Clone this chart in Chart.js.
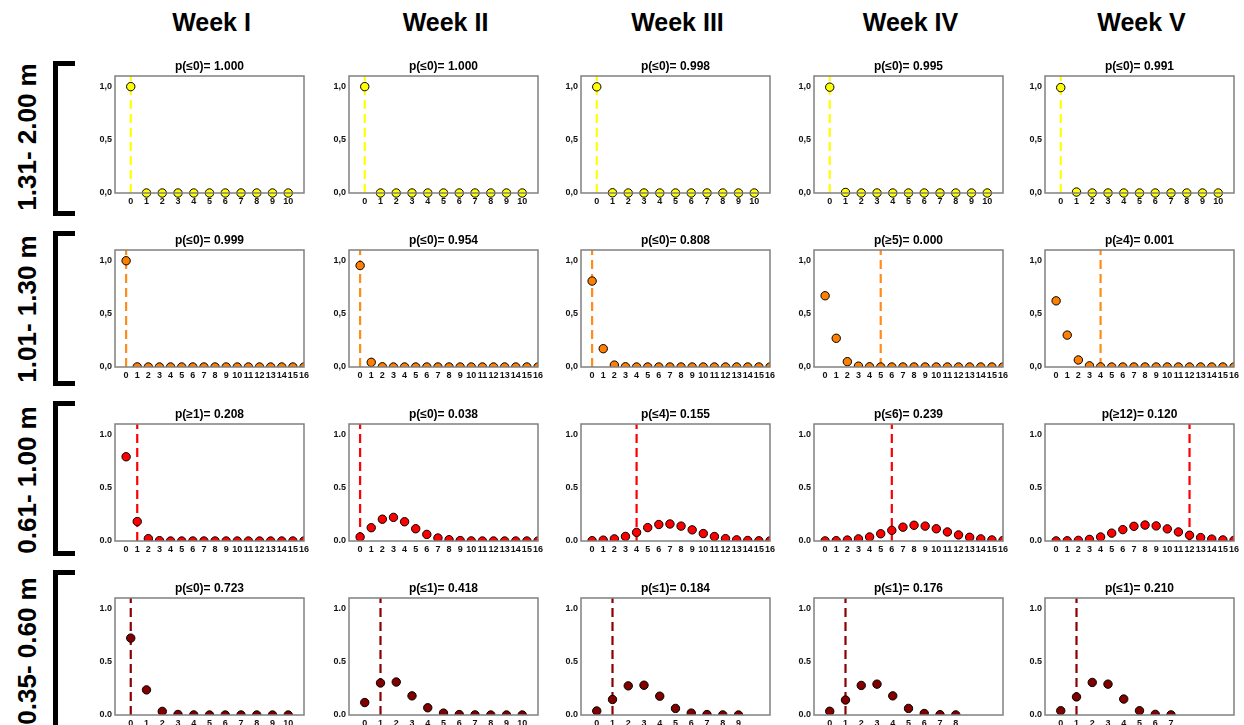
<!DOCTYPE html>
<html>
<head>
<meta charset="utf-8">
<script src="https://cdn.jsdelivr.net/npm/chart.js@4.4.0/dist/chart.umd.min.js"></script>
<style>
  body { margin: 0; background: #fff; overflow: hidden; }
  #page { position: relative; width: 1244px; height: 725px; overflow: hidden; font-family: Arial, "Liberation Sans", sans-serif; }
  .week { position: absolute; top: 7px; width: 200px; margin-left: -100px; text-align: center; font-weight: bold; font-size: 25px; line-height: 30px; }
  .depth { position: absolute; left: 27px; width: 220px; text-align: center; font-weight: bold; font-size: 26px; line-height: 30px; white-space: nowrap; transform: translate(-50%, -50%) rotate(-90deg); }
  .bracket { position: absolute; left: 53px; width: 17px; border: 5px solid #000; border-right: none; }
  canvas { position: absolute; }
</style>
</head>
<body>
<div id="page"></div>
<script>
const weeks = ['Week I', 'Week II', 'Week III', 'Week IV', 'Week V'];
const depths = ['1.31- 2.00 m', '1.01- 1.30 m', '0.61- 1.00 m', '0.35- 0.60 m'];
const yTicks = [0, 0.5, 1.0];

// row 1: 1.31 - 2.00 m
const row1Probs = [
  [1.000, 0, 0, 0, 0, 0, 0, 0, 0, 0, 0],
  [1.000, 0, 0, 0, 0, 0, 0, 0, 0, 0, 0],
  [0.998, 0.002, 0, 0, 0, 0, 0, 0, 0, 0, 0],
  [0.995, 0.005, 0, 0, 0, 0, 0, 0, 0, 0, 0],
  [0.991, 0.009, 0, 0, 0, 0, 0, 0, 0, 0, 0]
];
const row1Cut = [0, 0, 0, 0, 0];
const row1Titles = ['p(≤0)= 1.000', 'p(≤0)= 1.000', 'p(≤0)= 0.998', 'p(≤0)= 0.995', 'p(≤0)= 0.991'];

// row 2: 1.01 - 1.30 m
const row2Probs = [
  [0.999, 0.001, 0, 0, 0, 0, 0, 0, 0, 0, 0, 0, 0, 0, 0, 0, 0],
  [0.954, 0.044, 0.002, 0, 0, 0, 0, 0, 0, 0, 0, 0, 0, 0, 0, 0, 0],
  [0.808, 0.172, 0.018, 0.002, 0, 0, 0, 0, 0, 0, 0, 0, 0, 0, 0, 0, 0],
  [0.670, 0.270, 0.050, 0.008, 0.002, 0, 0, 0, 0, 0, 0, 0, 0, 0, 0, 0, 0],
  [0.622, 0.300, 0.066, 0.011, 0.001, 0, 0, 0, 0, 0, 0, 0, 0, 0, 0, 0, 0]
];
const row2Cut = [0, 0, 0, 5, 4];
const row2Titles = ['p(≤0)= 0.999', 'p(≤0)= 0.954', 'p(≤0)= 0.808', 'p(≥5)= 0.000', 'p(≥4)= 0.001'];

// row 3: 0.61 - 1.00 m
const row3Probs = [
  [0.792, 0.183, 0.022, 0.003, 0, 0, 0, 0, 0, 0, 0, 0, 0, 0, 0, 0, 0],
  [0.038, 0.125, 0.205, 0.222, 0.181, 0.115, 0.062, 0.028, 0.012, 0.004, 0.001, 0, 0, 0, 0, 0, 0],
  [0.003, 0.008, 0.020, 0.043, 0.081, 0.126, 0.155, 0.160, 0.140, 0.105, 0.070, 0.042, 0.022, 0.011, 0.005, 0.002, 0.001],
  [0.001, 0.003, 0.009, 0.020, 0.038, 0.068, 0.100, 0.130, 0.148, 0.140, 0.115, 0.085, 0.057, 0.035, 0.020, 0.010, 0.005],
  [0.001, 0.002, 0.006, 0.015, 0.038, 0.074, 0.107, 0.138, 0.150, 0.142, 0.114, 0.085, 0.054, 0.032, 0.018, 0.010, 0.006]
];
const row3Cut = [1, 0, 4, 6, 12];
const row3Titles = ['p(≥1)= 0.208', 'p(≤0)= 0.038', 'p(≤4)= 0.155', 'p(≤6)= 0.239', 'p(≥12)= 0.120'];

// row 4: 0.35 - 0.60 m
const row4Probs = [
  [0.723, 0.236, 0.034, 0.005, 0.001, 0, 0, 0, 0, 0, 0],
  [0.117, 0.301, 0.310, 0.180, 0.068, 0.018, 0.004, 0.001, 0, 0, 0],
  [0.038, 0.146, 0.274, 0.280, 0.177, 0.062, 0.018, 0.004, 0.001, 0],
  [0.035, 0.141, 0.278, 0.290, 0.180, 0.062, 0.014, 0.003, 0.001],
  [0.040, 0.170, 0.306, 0.290, 0.150, 0.040, 0.006, 0.001]
];
const row4Cut = [0, 1, 1, 1, 1];
const row4Titles = ['p(≤0)= 0.723', 'p(≤1)= 0.418', 'p(≤1)= 0.184', 'p(≤1)= 0.176', 'p(≤1)= 0.210'];

const rows = [
  { probs: row1Probs, cut: row1Cut, titles: row1Titles, xMax: 11, fill: '#ffff00', line: '#ffff00', sep: ',', clip: false },
  { probs: row2Probs, cut: row2Cut, titles: row2Titles, xMax: 16, fill: '#ff8000', line: '#ff8c1a', sep: ',', clip: 0 },
  { probs: row3Probs, cut: row3Cut, titles: row3Titles, xMax: 16, fill: '#ff0000', line: '#ff0000', sep: '.', clip: 0 },
  { probs: row4Probs, cut: row4Cut, titles: row4Titles, xMax: 11, fill: '#800000', line: '#8b0000', sep: '.', clip: 0 }
];

const plotLeft = [115, 349, 581, 814, 1045];
const plotTop = [76, 250, 424, 598];
const plotW = 189, plotH = 117;
const bracketTop = [61, 231, 401, 570];
const depthMid = [137, 309, 480, 651];

const fontFam = 'Arial, "Liberation Sans", sans-serif';
const tickFont = { family: '"Arial Narrow", "Liberation Sans Narrow", Arial, "Liberation Sans", sans-serif', size: 9, weight: 'bold' };

const framePlugin = {
  id: 'frame',
  afterDatasetsDraw(chart) {
    const a = chart.chartArea, c = chart.ctx;
    c.save();
    c.strokeStyle = '#808080';
    c.lineWidth = 1.5;
    c.strokeRect(a.left, a.top, a.right - a.left, a.bottom - a.top);
    c.restore();
  }
};

const page = document.getElementById('page');

weeks.forEach((w, i) => {
  const d = document.createElement('div');
  d.className = 'week';
  d.style.left = (plotLeft[i] + plotW / 2 + 2) + 'px';
  d.textContent = w;
  page.appendChild(d);
});

depths.forEach((t, r) => {
  const d = document.createElement('div');
  d.className = 'depth';
  d.style.top = depthMid[r] + 'px';
  d.textContent = t;
  page.appendChild(d);
  const b = document.createElement('div');
  b.className = 'bracket';
  b.style.top = bracketTop[r] + 'px';
  b.style.height = (r === 3 ? 170 : 145) + 'px';
  page.appendChild(b);
});

function renderChart(ctx, row, col) {
  const probs = row.probs[col];
  const cut = row.cut[col];
  const points = probs.map((p, i) => ({ x: i, y: p }));
  return new Chart(ctx, {
    type: 'scatter',
    data: {
      datasets: [
        {
          data: points,
          backgroundColor: row.fill,
          borderColor: '#000',
          borderWidth: 1,
          pointRadius: 4.2,
          order: 1,
          clip: row.clip
        },
        {
          type: 'line',
          data: [{ x: cut, y: 0 }, { x: cut, y: 1.1 }],
          showLine: true,
          borderColor: row.line,
          borderWidth: 2.2,
          borderDash: [9, 5],
          pointRadius: 0,
          order: 2
        }
      ]
    },
    options: {
      responsive: false,
      animation: false,
      events: [],
      layout: { padding: { top: 0, right: 8, bottom: 0, left: 0 } },
      plugins: {
        legend: { display: false },
        tooltip: { enabled: false },
        title: {
          display: true,
          text: row.titles[col],
          fullSize: false,
          color: '#000',
          font: { family: fontFam, size: 12, weight: 'bold', lineHeight: 1.2 },
          padding: { top: 4, bottom: 2.6 }
        }
      },
      scales: {
        x: {
          type: 'linear',
          min: -1,
          max: row.xMax,
          afterFit: s => { s.height = 18; },
          grid: { display: false, drawTicks: false },
          border: { display: false },
          ticks: {
            stepSize: 1,
            autoSkip: false,
            maxRotation: 0,
            padding: 3,
            color: '#111',
            font: tickFont,
            callback: v => (v >= 0 && v < probs.length) ? v : ''
          }
        },
        y: {
          min: 0,
          max: 1.1,
          afterFit: s => { s.width = 30; },
          afterBuildTicks: s => { s.ticks = yTicks.map(v => ({ value: v })); },
          grid: { display: false, drawTicks: false },
          border: { display: false },
          ticks: {
            padding: 3,
            color: '#111',
            font: tickFont,
            callback: v => v.toFixed(1).replace('.', row.sep)
          }
        }
      }
    },
    plugins: [framePlugin]
  });
}

rows.forEach((row, r) => {
  for (let c = 0; c < 5; c++) {
    const cv = document.createElement('canvas');
    cv.width = 30 + plotW + 8;
    cv.height = 21 + plotH + 18;
    cv.style.left = (plotLeft[c] - 30) + 'px';
    cv.style.top = (plotTop[r] - 21) + 'px';
    page.appendChild(cv);
    renderChart(cv, row, c);
  }
});
</script>
</body>
</html>
